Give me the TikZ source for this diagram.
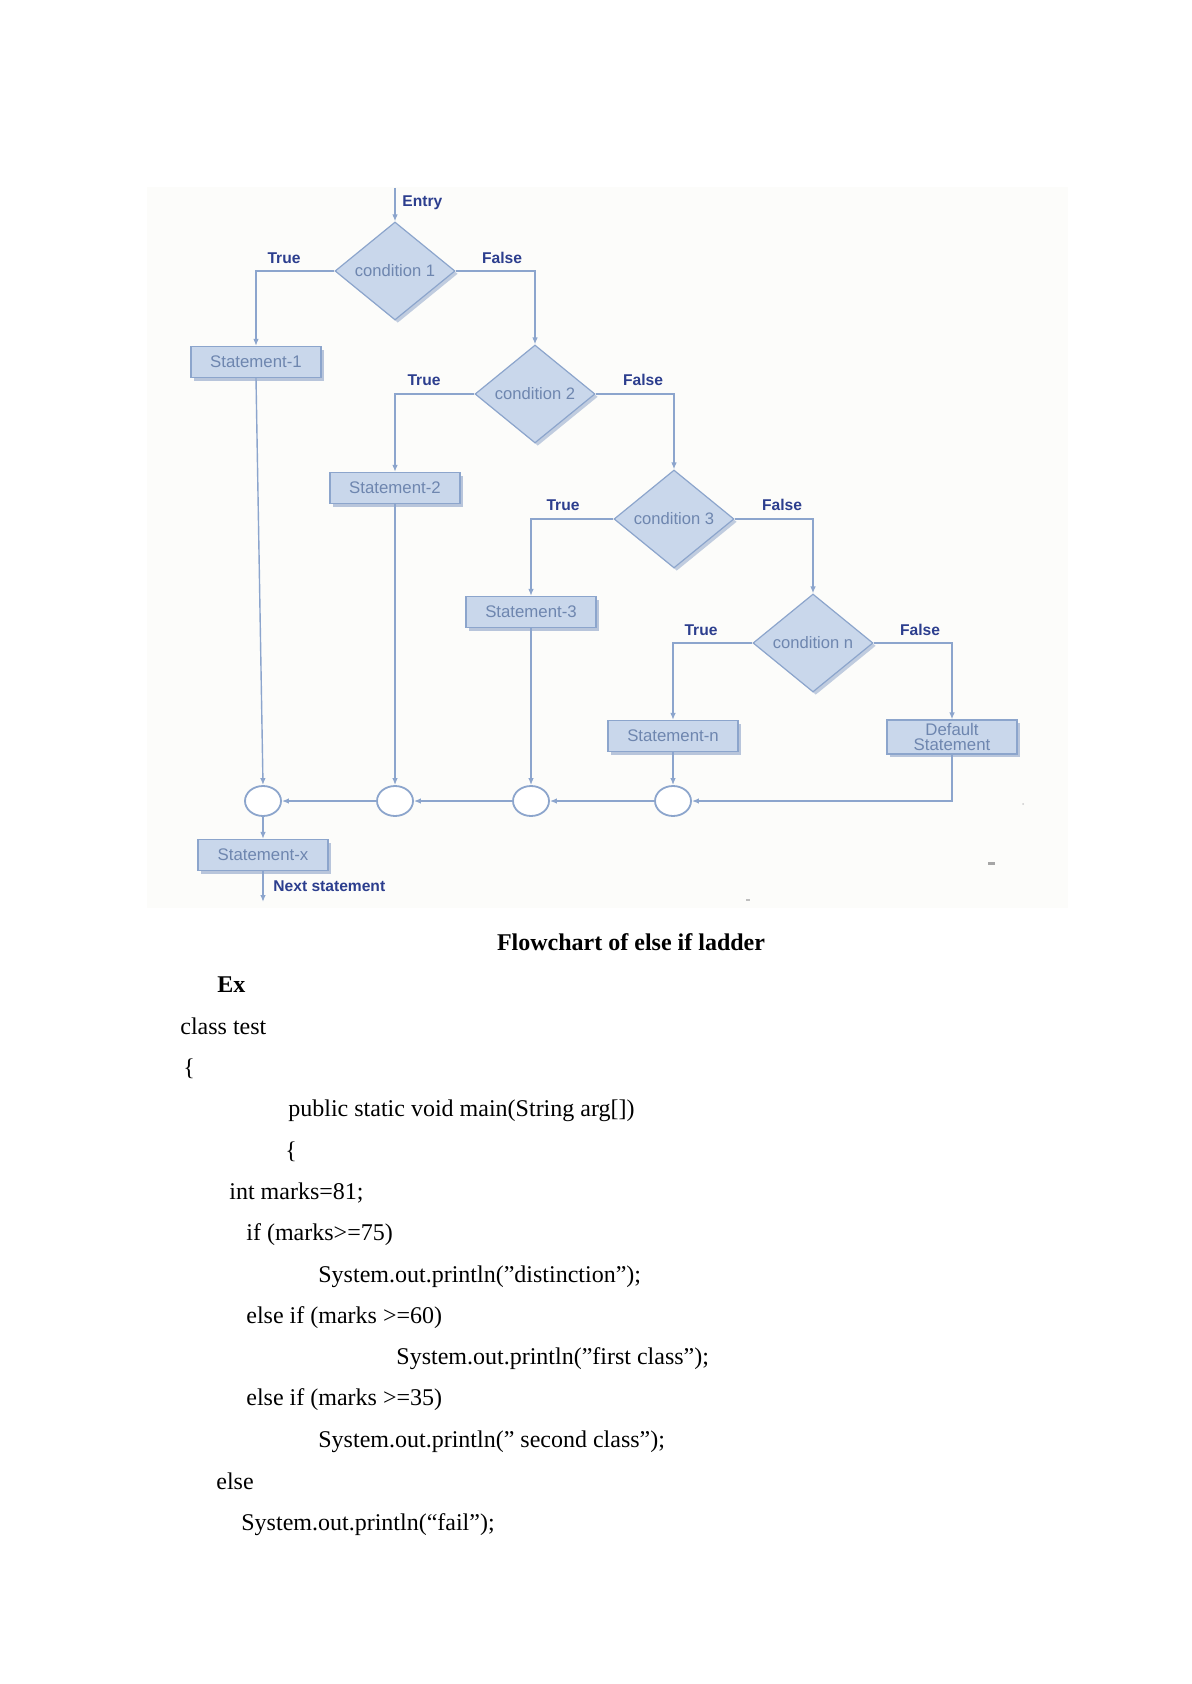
\documentclass[tikz,border=0pt]{standalone}
\usepackage{fontspec}
\setmainfont{Liberation Serif}
\newfontfamily\flowfont{Liberation Sans}
\usetikzlibrary{shapes.geometric,arrows.meta,shadows}

\definecolor{flowline}{HTML}{8CA5CD}
\definecolor{boxfill}{HTML}{C9D7EB}
\definecolor{boxedge}{HTML}{8CA5CC}
\definecolor{boxshade}{HTML}{A7B8D4}
\definecolor{boxtext}{HTML}{6E86AF}
\definecolor{labeltext}{HTML}{2C3E8E}
\definecolor{panel}{HTML}{FCFCFA}

\tikzset{
  flow/.style={draw=flowline, line width=0.7pt},
  arr/.style={flow, -{Latex[length=3.5pt,width=2.8pt]}},
  stmt/.style={rectangle, draw=boxedge, fill=boxfill, line width=0.6pt,
    minimum width=65pt, minimum height=15.5pt, inner sep=1pt,
    font=\flowfont\fontsize{8.4}{9}\selectfont, text=boxtext, align=center,
    drop shadow={shadow xshift=1.6pt, shadow yshift=-1.6pt, fill=boxshade, opacity=0.8}},
  cond/.style={diamond, draw=boxedge, fill=boxfill, line width=0.6pt,
    minimum width=60pt, minimum height=49pt, inner sep=0pt,
    font=\flowfont\fontsize{8.3}{9}\selectfont, text=boxtext,
    drop shadow={shadow xshift=1.4pt, shadow yshift=-1.4pt, fill=boxshade, opacity=0.7}},
  junction/.style={ellipse, draw=boxedge, fill=white, line width=0.9pt,
    minimum width=18pt, minimum height=15pt, inner sep=0pt},
  lbl/.style={font=\flowfont\bfseries\fontsize{7.8}{9}\selectfont, text=labeltext, inner sep=0pt},
  code/.style={anchor=base west, inner sep=0pt, font=\fontsize{12}{14}\selectfont},
}

\begin{document}
\begin{tikzpicture}[x=0.5pt,y=-0.5pt]
  % page frame
  \useasboundingbox (0,0) rectangle (1192,1684);
  \fill[white] (0,0) rectangle (1192,1684);
  \fill[panel] (147,187) rectangle (1068,908);

  % decision diamonds
  \node[cond] (d1) at (395,271) {condition 1};
  \node[cond] (d2) at (535,394) {condition 2};
  \node[cond] (d3) at (674,519) {condition 3};
  \node[cond] (dn) at (813,643) {condition n};

  % statement boxes
  \node[stmt] (s1) at (256,362) {Statement-1};
  \node[stmt] (s2) at (395,488) {Statement-2};
  \node[stmt] (s3) at (531,612) {Statement-3};
  \node[stmt] (sn) at (673,736) {Statement-n};
  \node[stmt, minimum height=17pt] (sd) at (952,737) {Default\\[-1.5pt]Statement};
  \node[stmt] (sx) at (263,855) {Statement-x};

  % join points
  \node[junction] (c1) at (263,801) {};
  \node[junction] (c2) at (395,801) {};
  \node[junction] (c3) at (531,801) {};
  \node[junction] (c4) at (673,801) {};

  % entry and exit
  \coordinate (entry) at (395,188);
  \coordinate (exit) at (263,902);
  \draw[arr] (entry) -- (d1.north);
  \node[lbl, anchor=west] (entrytxt) at (402,203) {Entry};

  % branches
  \draw[arr] (d1.west) -| (s1.north);
  \draw[arr] (d1.east) -| (d2.north);
  \draw[arr] (d2.west) -| (s2.north);
  \draw[arr] (d2.east) -| (d3.north);
  \draw[arr] (d3.west) -| (s3.north);
  \draw[arr] (d3.east) -| (dn.north);
  \draw[arr] (dn.west) -| (sn.north);
  \draw[arr] (dn.east) -| (sd.north);

  % branch labels
  \node[lbl] (t1) at (284,258) {True};
  \node[lbl] (f1) at (502,258) {False};
  \node[lbl] (t2) at (424,380) {True};
  \node[lbl] (f2) at (643,380) {False};
  \node[lbl] (t3) at (563,505) {True};
  \node[lbl] (f3) at (782,505) {False};
  \node[lbl] (tn) at (701,630) {True};
  \node[lbl] (fn) at (920,630) {False};

  % collecting the branches
  \draw[arr] (s1.south) -- (c1.north);
  \draw[arr] (s2.south) -- (c2.north);
  \draw[arr] (s3.south) -- (c3.north);
  \draw[arr] (sn.south) -- (c4.north);
  \draw[arr] (sd.south) |- (c4.east);
  \draw[arr] (c4.west) -- (c3.east);
  \draw[arr] (c3.west) -- (c2.east);
  \draw[arr] (c2.west) -- (c1.east);
  \draw[arr] (c1.south) -- (sx.north);
  \draw[arr] (sx.south) -- (exit);
  \node[lbl, anchor=west] (nexttxt) at (273,886) {Next statement};

  % specks in the panel
  \fill[gray!70] (988,862) rectangle (995,864.5);
  \fill[gray!40] (1023,804) circle (1);
  \fill[gray!50] (746,899) rectangle (750,901);

  % caption
  \node[anchor=base, inner sep=0pt, font=\bfseries\fontsize{12}{14}\selectfont] (cap) at (631,950) {Flowchart of else if ladder};

  % example program
  \node[code, font=\bfseries\fontsize{12}{14}\selectfont] (l0) at (217,992) {Ex};
  \node[code] (l1) at (180,1034) {class test};
  \node[code] (l2) at (183,1075) {\{};
  \node[code] (l3) at (288,1116) {public static void main(String arg[])};
  \node[code] (l4) at (285,1158) {\{};
  \node[code] (l5) at (229,1199) {int marks=81;};
  \node[code] (l6) at (246,1240) {if (marks>=75)};
  \node[code] (l7) at (318,1282) {System.out.println(”distinction”);};
  \node[code] (l8) at (246,1323) {else if (marks >=60)};
  \node[code] (l9) at (396,1364) {System.out.println(”first class”);};
  \node[code] (l10) at (246,1405) {else if (marks >=35)};
  \node[code] (l11) at (318,1447) {System.out.println(” second class”);};
  \node[code] (l12) at (216,1489) {else};
  \node[code] (l13) at (241,1530) {System.out.println(“fail”);};
\end{tikzpicture}
\end{document}
